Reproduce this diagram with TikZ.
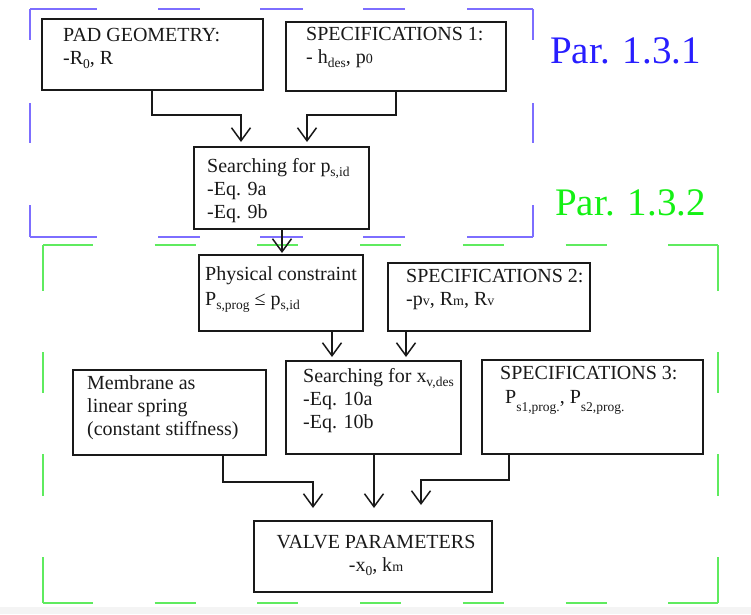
\documentclass[tikz,border=0pt]{standalone}
\usepackage{fontspec}
\setmainfont{Liberation Serif}
\usetikzlibrary{arrows.meta}
\definecolor{frameblue}{RGB}{125,110,255}
\definecolor{textblue}{RGB}{40,30,255}
\definecolor{framegreen}{RGB}{95,235,95}
\definecolor{textgreen}{RGB}{20,240,20}
\definecolor{inkgray}{RGB}{25,25,25}
\definecolor{bandgray}{RGB}{244,244,244}
\newcommand\fs{\fontsize{20}{23}\selectfont}
\newcommand\mysub[1]{\raisebox{-4pt}{\fontsize{13.5}{14}\selectfont #1}}
\newcommand\mylow[1]{\raisebox{-8pt}{\fontsize{13.5}{14}\selectfont #1}}
\newcommand\mysm[1]{{\fontsize{14}{14}\selectfont #1}}
\begin{document}
\begin{tikzpicture}[x=1pt,y=-1pt,
  box/.style={draw=inkgray, line width=1.8pt, inner sep=0pt, outer sep=0pt, anchor=north west},
  txt/.style={anchor=north west, inner sep=0pt, align=left, font=\fs, text=inkgray, execute at begin node=\strut},
  arr/.style={draw=inkgray, line width=1.5pt, -{Straight Barb[length=13pt,width=19pt,line width=1.5pt]}},
  bframe/.style={draw=frameblue, line width=1.2pt},
  gframe/.style={draw=framegreen, line width=1.2pt},
  partxt/.style={anchor=base west, inner sep=0pt, font=\fontsize{39}{44}\selectfont}]
\useasboundingbox (0,0) rectangle (751,614);
\fill[bandgray] (0,607) rectangle (751,614);

% blue frame (Par. 1.3.1)
\draw[bframe, dash pattern=on 67pt off 61pt on 42pt off 60pt on 43pt off 60pt on 42pt off 62pt on 80pt] (30,9) -- (533,9);
\draw[bframe, dash pattern=on 67pt off 61pt on 42pt off 60pt on 43pt off 60pt on 42pt off 62pt on 80pt] (30,237) -- (533,237);
\draw[bframe, dash pattern=on 31pt off 63pt on 40pt off 62pt on 40pt] (30,9) -- (30,237);
\draw[bframe, dash pattern=on 31pt off 63pt on 40pt off 62pt on 40pt] (533,9) -- (533,237);

% green frame (Par. 1.3.2)
\draw[gframe, dash pattern=on 50pt off 61.7pt on 41pt off 61.7pt on 41pt off 61.7pt on 41pt off 61.7pt on 41pt off 61.7pt on 41pt off 61.7pt on 60pt] (43,245) -- (718,245);
\draw[gframe, dash pattern=on 50pt off 61.7pt on 41pt off 61.7pt on 41pt off 61.7pt on 41pt off 61.7pt on 41pt off 61.7pt on 41pt off 61.7pt on 60pt] (43,603) -- (718,603);
\draw[gframe, dash pattern=on 46pt off 61pt on 41pt off 61pt on 42pt off 61pt on 60pt] (43,245) -- (43,603);
\draw[gframe, dash pattern=on 46pt off 61pt on 41pt off 61pt on 42pt off 61pt on 60pt] (718,245) -- (718,603);

\node[partxt, text=textblue] (par1) at (550,63) {Par. 1.3.1};
\node[partxt, text=textgreen] (par2) at (555,215) {Par. 1.3.2};

% boxes
\node[box, minimum width=221pt, minimum height=71pt] (pad) at (42,19) {};
\node[box, minimum width=220pt, minimum height=69pt] (spec1) at (286,22) {};
\node[box, minimum width=175pt, minimum height=82pt] (searchp) at (194,147) {};
\node[box, minimum width=164pt, minimum height=76pt] (phys) at (199,255) {};
\node[box, minimum width=202pt, minimum height=68pt] (spec2) at (388,263) {};
\node[box, minimum width=193pt, minimum height=85pt] (memb) at (73,370) {};
\node[box, minimum width=175pt, minimum height=93pt] (searchx) at (286,361) {};
\node[box, minimum width=221pt, minimum height=94pt] (spec3) at (482,360) {};
\node[box, minimum width=238pt, minimum height=71pt] (valve) at (254,521) {};

% texts (north = first baseline - 16.1)
\node[txt] (padtxt) at (63,27.9) {PAD GEOMETRY:\\-R\mysub{0}, R};
\node[txt] (spec1txt) at (306,26.9) {SPECIFICATIONS 1:\\- h\mysub{des}, p\mysm{0}};
\node[txt] (searchptxt) at (207,157.9) {Searching for p\mysub{s,id}\\-Eq. 9a\\-Eq. 9b};
\node[txt] (phystxt) at (205,266.9) {Physical constraint\\[2pt]P\mysub{s,prog} ≤ p\mysub{s,id}};
\node[txt] (spec2txt) at (406,268.9) {SPECIFICATIONS 2:\\-p\mysm{v}, R\mysm{m}, R\mysm{v}};
\node[txt] (membtxt) at (87,375.9) {Membrane as\\linear spring\\(constant stiffness)};
\node[txt] (searchxtxt) at (303,367.9) {Searching for x\mysub{v,des}\\-Eq. 10a\\-Eq. 10b};
\node[txt] (spec3txt) at (500,365.9) {SPECIFICATIONS 3:\\[1pt]\hspace*{5pt}P\mylow{s1,prog.}, P\mylow{s2,prog.}};
\node[txt, anchor=north, align=center] (valvetxt) at (376,534.9) {VALVE PARAMETERS\\-x\mysub{0}, k\mysm{m}};

% connector helper coordinates
\coordinate (e1) at (152,115);
\coordinate (t1) at (241,142);
\coordinate (e2) at (396,115);
\coordinate (t2) at (307,142);
\coordinate (t3) at (282,253);
\coordinate (t4) at (332,357);
\coordinate (t5) at (406,357);
\coordinate (e6) at (223,482);
\coordinate (t6) at (313,508);
\coordinate (t7) at (374,508);
\coordinate (e8) at (509,480);
\coordinate (t8) at (421,505);

% connectors
\draw[arr] (pad.south -| e1) -- (e1) -| (t1);
\draw[arr] (spec1.south -| e2) -- (e2) -| (t2);
\draw[arr] (searchp.south -| t3) -- (t3);
\draw[arr] (phys.south -| t4) -- (t4);
\draw[arr] (spec2.south -| t5) -- (t5);
\draw[arr] (memb.south -| e6) -- (e6) -| (t6);
\draw[arr] (searchx.south -| t7) -- (t7);
\draw[arr] (spec3.south -| e8) -- (e8) -| (t8);
\end{tikzpicture}
\end{document}
